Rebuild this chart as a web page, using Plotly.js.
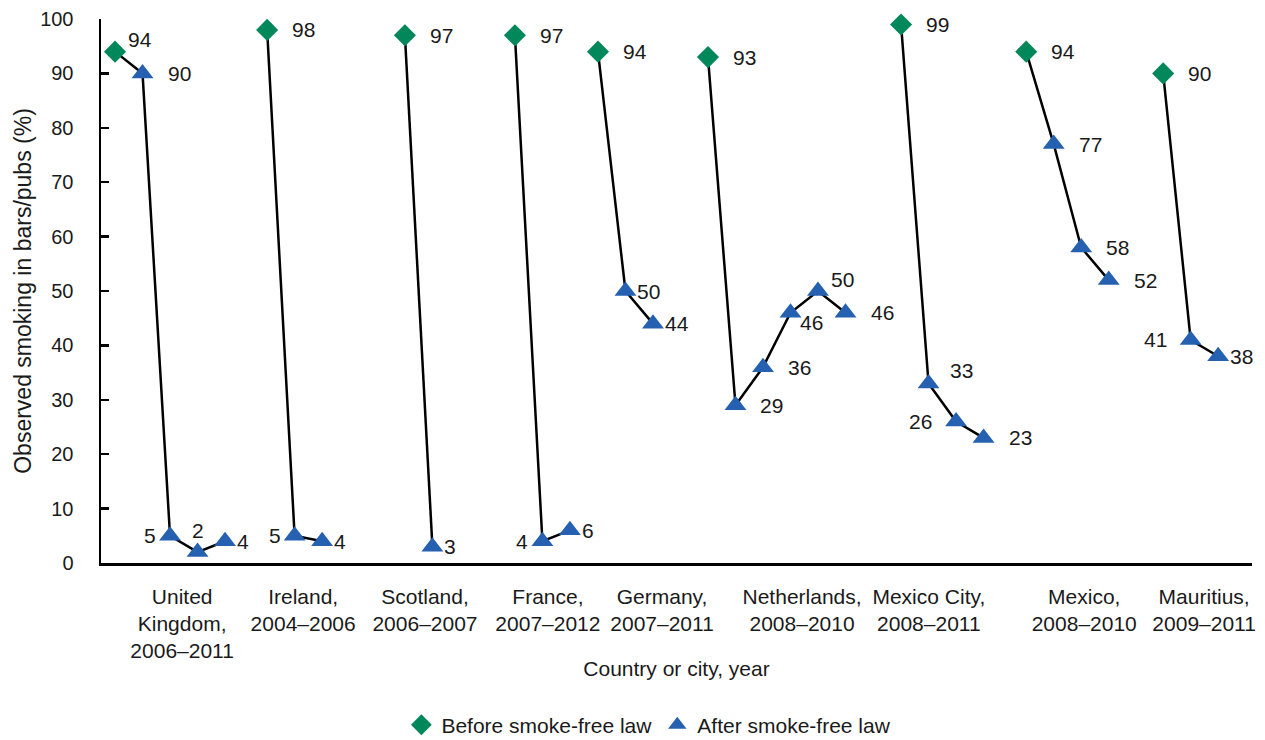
<!DOCTYPE html>
<html>
<head>
<meta charset="utf-8">
<script src="https://cdn.plot.ly/plotly-3.0.1.min.js"></script>
<style>
  html, body { margin: 0; padding: 0; background: #ffffff; }
  #chart { width: 1265px; height: 740px; }
</style>
</head>
<body>
<div id="chart"></div>
<script>
// ---- Data ----
const groupLabels = [
  'United<br>Kingdom,<br>2006–2011',
  'Ireland,<br>2004–2006',
  'Scotland,<br>2006–2007',
  'France,<br>2007–2012',
  'Germany,<br>2007–2011',
  'Netherlands,<br>2008–2010',
  'Mexico City,<br>2008–2011',
  'Mexico,<br>2008–2010',
  'Mauritius,<br>2009–2011'
];
// value before the law, per place
const beforeValues = [94, 98, 97, 97, 94, 93, 99, 94, 90];
// values observed after the law, per place (in order of survey)
const afterValues = [
  [90, 5, 2, 4],
  [5, 4],
  [3],
  [4, 6],
  [50, 44],
  [29, 36, 46, 50, 46],
  [33, 26, 23],
  [77, 58, 52],
  [41, 38]
];
// x-axis slot of the first (before-law) survey of each place; later surveys follow one slot apart
const groupStartSlot = [0.51, 6.04, 11.05, 15.05, 18.07, 22.07, 29.09, 33.64, 38.62];
// x-axis slot where each category label sits
const groupLabelSlot = [2.95, 7.35, 11.78, 16.25, 20.4, 25.49, 30.1, 35.75, 40.11];

// label placement codes (style only), parallel to [before, ...after]
const labelPlacement = [
  ['TR', 'R', 'L', 'T', 'r'],
  ['R', 'L', 'r'],
  ['R', 'r'],
  ['R', 'L', 'r'],
  ['R', 'r', 'r'],
  ['R', 'R', 'R', 'BR', 'TR', 'R'],
  ['R', 'TRw', 'LL', 'R'],
  ['R', 'R', 'R', 'R'],
  ['R', 'LL', 'r']
];

// ---- Styles ----
const FONT = '"Liberation Sans", Arial, sans-serif';
const TXT = '#1a1a1a';
const GREEN = '#00875A';
const BLUE = '#2660B0';
const placeStyle = {
  R:   {xanchor: 'left',   xshift: 23,  yshift: 0},
  r:   {xanchor: 'left',   xshift: 10,  yshift: 0},
  L:   {xanchor: 'right',  xshift: -12, yshift: 0},
  LL:  {xanchor: 'right',  xshift: -22, yshift: 0},
  T:   {xanchor: 'center', xshift: 0,   yshift: 22},
  TR:  {xanchor: 'left',   xshift: 11,  yshift: 12},
  TRw: {xanchor: 'left',   xshift: 19,  yshift: 13},
  BR:  {xanchor: 'left',   xshift: 7,   yshift: -10}
};

const traces = [];
const annotations = [];
const bx = [], by = [], ax = [], ay = [];

beforeValues.forEach((b, g) => {
  const ys = [b].concat(afterValues[g]);
  const xs = ys.map((_, i) => groupStartSlot[g] + i);
  traces.push({
    type: 'scatter', mode: 'lines', x: xs, y: ys,
    line: {color: '#000000', width: 2.5},
    hoverinfo: 'skip', showlegend: false, cliponaxis: false
  });
  bx.push(xs[0]); by.push(ys[0]);
  for (let i = 1; i < ys.length; i++) { ax.push(xs[i]); ay.push(ys[i]); }
  ys.forEach((v, i) => {
    const st = placeStyle[labelPlacement[g][i]];
    annotations.push({
      x: xs[i], y: v, xref: 'x', yref: 'y', text: String(v), showarrow: false,
      xanchor: st.xanchor, yanchor: 'middle', xshift: st.xshift, yshift: st.yshift,
      font: {family: FONT, size: 21, color: TXT}
    });
  });
});

traces.push({
  type: 'scatter', mode: 'markers', x: bx, y: by, name: 'Before smoke-free law',
  marker: {symbol: 'diamond', size: 17, color: GREEN, line: {width: 0}}, cliponaxis: false
});
traces.push({
  type: 'scatter', mode: 'markers', x: ax, y: ay, name: 'After smoke-free law',
  marker: {symbol: 'triangle-up', size: 19, color: BLUE, line: {width: 0}}, cliponaxis: false
});

const layout = {
  width: 1265, height: 740,
  margin: {l: 101, r: 13, t: 19, b: 177, autoexpand: false},
  paper_bgcolor: '#ffffff', plot_bgcolor: '#ffffff',
  font: {family: FONT, size: 21, color: TXT},
  showlegend: true,
  legend: {
    orientation: 'h', x: 0.476, xanchor: 'center', y: -0.298, yanchor: 'middle',
    font: {family: FONT, size: 21, color: TXT}, itemwidth: 30, tracegroupgap: 0
  },
  xaxis: {
    range: [0, 41.85], showgrid: false, zeroline: false,
    showline: true, linecolor: '#000000', linewidth: 2.5,
    ticks: '', tickmode: 'array', tickvals: groupLabelSlot, ticktext: groupLabels,
    tickangle: 0, automargin: false,
    tickfont: {family: FONT, size: 21, color: TXT},
    ticklabelstandoff: 13,
    title: {text: 'Country or city, year', font: {family: FONT, size: 21, color: TXT}, standoff: 0},
    fixedrange: true
  },
  yaxis: {
    range: [0, 100], dtick: 10, tick0: 0, showgrid: false, zeroline: false,
    showline: true, linecolor: '#000000', linewidth: 2.5, automargin: false,
    ticks: 'inside', ticklen: 8, tickwidth: 2.5, tickcolor: '#000000',
    tickfont: {family: FONT, size: 20, color: TXT},
    ticklabelstandoff: 21,
    title: {text: 'Observed smoking in bars/pubs (%)', font: {family: FONT, size: 23, color: TXT}, standoff: 2},
    fixedrange: true
  },
  annotations: annotations
};

Plotly.newPlot('chart', traces, layout, {staticPlot: true, displayModeBar: false});
</script>
</body>
</html>
